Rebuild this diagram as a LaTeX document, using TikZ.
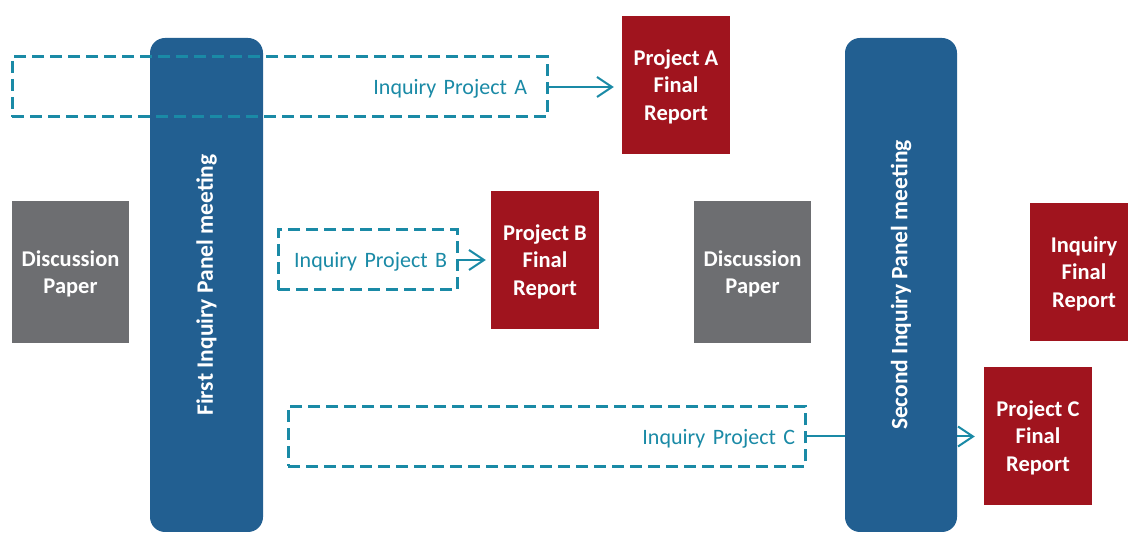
\documentclass[tikz,border=0pt]{standalone}
\usepackage{fontspec}
\setmainfont{Carlito}
\usetikzlibrary{arrows.meta}
\definecolor{panelblue}{HTML}{225F91}
\definecolor{reportred}{HTML}{A0141E}
\definecolor{papergray}{HTML}{6D6E71}
\definecolor{inqteal}{HTML}{1A8AA6}
\begin{document}
\begin{tikzpicture}[x=1pt,y=-1pt,
    font=\fontsize{22}{27.5}\selectfont,
    report/.style={fill=reportred,text=white,font=\fontsize{22.5}{27.5}\selectfont\bfseries,
        align=center,minimum width=108,minimum height=138,inner sep=0,text depth=0},
    paper/.style={fill=papergray,text=white,font=\fontsize{22.5}{27.5}\selectfont\bfseries,
        align=center,minimum width=117,minimum height=142,inner sep=0,text depth=0},
    panel/.style={fill=panelblue,text=white,font=\fontsize{23.5}{28}\selectfont\bfseries,
        rotate=90,rounded corners=15,minimum width=494,inner sep=0},
    projbox/.style={draw=inqteal,text=inqteal,line width=3,dash pattern=on 12 off 6,
        align=right,minimum height=60,inner sep=0,text depth=0},
    link/.style={draw=inqteal,line width=2,-{Straight Barb[length=15,width=20]}}]
    \useasboundingbox (0,0) rectangle (1128,534);
    % reports and papers
    \node[report] (repA) at (676,85) {Project A\\Final\\Report};
    \node[report] (repB) at (545,260) {Project B\\Final\\Report};
    \node[report] (repC) at (1038,436) {Project C\\Final\\Report};
    \node[report] (final) at (1084,272) {Inquiry\\Final\\Report};
    \node[paper] (discA) at (70.5,272) {Discussion\\Paper};
    \node[paper] (discB) at (752.5,272) {Discussion\\Paper};
    % first meeting, then the projects
    \node[panel,minimum height=113] (meetA) at (206.5,285) {First Inquiry Panel meeting};
    \node[projbox,minimum width=535,text width=495] (projA) at (279.5,87) {Inquiry Project A};
    \node[projbox,minimum width=179,text width=159] (projB) at (367.5,260) {Inquiry Project B};
    \node[projbox,minimum width=517,text width=497] (projC) at (546.5,436.5) {Inquiry Project C};
    \draw[link,shorten >=8] (projA.east) -- (repA.west |- projA.east);
    \draw[link,shorten >=5] (projB.east) -- (repB.west |- projB.east);
    \draw[link,shorten >=9] (projC.east) -- (repC.west |- projC.east);
    % second meeting sits over the C link
    \node[panel,minimum height=112] (meetB) at (901,285) {Second Inquiry Panel meeting};
\end{tikzpicture}
\end{document}
